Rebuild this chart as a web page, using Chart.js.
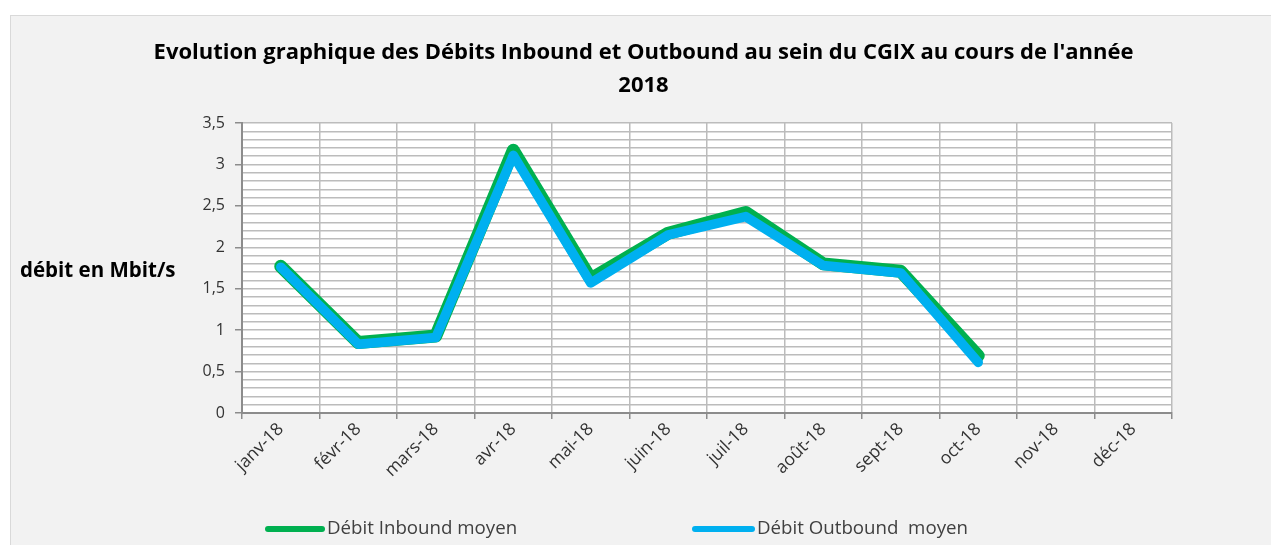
<!DOCTYPE html>
<html>
<head>
<meta charset="utf-8">
<script src="https://cdn.jsdelivr.net/npm/chart.js@4.4.1/dist/chart.umd.min.js"></script>
<style>
  html, body { margin: 0; padding: 0; background: #ffffff; overflow: hidden; width: 1271px; height: 545px; }
  #box { position: absolute; left: 10px; top: 15px; width: 1261px; height: 530px; background: #f2f2f2; border-left: 1px solid #d9d9d9; border-top: 1px solid #d9d9d9; box-sizing: border-box; }
  canvas { display: block; }
</style>
</head>
<body>
<div id="box"><canvas id="c" width="1260" height="529"></canvas></div>
<script>
const months = ['janv-18','févr-18','mars-18','avr-18','mai-18','juin-18','juil-18','août-18','sept-18','oct-18','nov-18','déc-18'];
const inbound = [1.77, 0.85, 0.93, 3.17, 1.62, 2.17, 2.42, 1.80, 1.71, 0.69, null, null];
const outbound = [1.76, 0.83, 0.91, 3.11, 1.57, 2.15, 2.37, 1.78, 1.69, 0.61, null, null];
const seriesNames = ['Débit Inbound moyen', 'Débit Outbound  moyen'];
const titleLines = ["Evolution graphique des Débits Inbound et Outbound au sein du CGIX au cours de l'année", '2018'];
const yTitle = 'débit en Mbit/s';

const FONT = '"Open Sans", Lato, sans-serif';

const plotBg = {
  id: 'plotBg',
  beforeDraw(chart) {
    const a = chart.chartArea, ctx = chart.ctx;
    ctx.save();
    ctx.fillStyle = '#ffffff';
    ctx.fillRect(a.left, a.top, a.right - a.left, a.bottom - a.top);
    ctx.restore();
  }
};

const customText = {
  id: 'customText',
  afterDraw(chart) {
    const ctx = chart.ctx;
    const area = chart.chartArea;
    ctx.save();
    ctx.font = 'bold 20.5px ' + FONT;
    ctx.fillStyle = '#000000';
    ctx.textAlign = 'left';
    ctx.textBaseline = 'middle';
    ctx.fillText(yTitle, 9, (area.top + area.bottom) / 2 + 3);
    const starts = [254, 681];
    const ly = 513;
    chart.data.datasets.forEach((ds, i) => {
      const x0 = starts[i];
      ctx.strokeStyle = ds.borderColor;
      ctx.lineWidth = 6;
      ctx.lineCap = 'round';
      ctx.beginPath();
      ctx.moveTo(x0 + 3, ly);
      ctx.lineTo(x0 + 57 + (i === 1 ? 3 : 0), ly);
      ctx.stroke();
      ctx.font = '18.7px ' + FONT;
      ctx.fillStyle = '#404040';
      ctx.textBaseline = 'middle';
      ctx.fillText(ds.label, x0 + 62 + (i === 1 ? 3 : 0), ly);
    });
    ctx.restore();
  }
};

new Chart(document.getElementById('c'), {
  type: 'line',
  data: {
    labels: months,
    datasets: [
      { label: seriesNames[0], data: inbound, borderColor: '#00b050', backgroundColor: '#00b050', borderWidth: 13, order: 1,
        pointRadius: 0, borderCapStyle: 'round', borderJoinStyle: 'round', tension: 0, spanGaps: false },
      { label: seriesNames[1], data: outbound, borderColor: '#00b0f0', backgroundColor: '#00b0f0', borderWidth: 9.5, order: 0,
        pointRadius: 0, borderCapStyle: 'round', borderJoinStyle: 'round', tension: 0, spanGaps: false }
    ]
  },
  options: {
    responsive: false,
    animation: false,
    layout: { padding: { left: 104, right: 99, top: 0, bottom: 62 } },
    plugins: {
      legend: { display: false },
      tooltip: { enabled: false },
      title: {
        display: true,
        text: titleLines,
        color: '#000000',
        font: { family: FONT, size: 22, weight: 'bold', lineHeight: 1.5 },
        padding: { top: 20, bottom: 21 }
      }
    },
    scales: {
      x: {
        offset: true,
        grid: { display: true, offset: true, color: '#bcbcbc', lineWidth: 1.5, tickLength: 6, tickColor: '#8c8c8c', drawOnChartArea: true },
        border: { display: true, color: '#8c8c8c', width: 2 },
        ticks: { minRotation: 45, maxRotation: 45, autoSkip: false, color: '#333333', font: { family: FONT, size: 17.5 }, padding: 0 },
        afterFit: s => { s.height = 70; }
      },
      y: {
        min: 0, max: 3.5,
        grid: { color: '#bcbcbc', lineWidth: 1.5, tickLength: 7,
          tickColor: c => (Math.round(c.tick.value * 10) % 5 === 0 ? '#8c8c8c' : 'rgba(0,0,0,0)') },
        border: { display: true, color: '#8c8c8c', width: 2 },
        ticks: {
          stepSize: 0.1, autoSkip: false, color: '#333333', font: { family: FONT, size: 16 }, padding: 10,
          callback: v => (Math.round(v * 10) % 5 === 0 ? String(Math.round(v * 10) / 10).replace('.', ',') : '')
        },
        afterFit: s => { s.width = 127; }
      }
    }
  },
  plugins: [plotBg, customText]
});
</script>
</body>
</html>
